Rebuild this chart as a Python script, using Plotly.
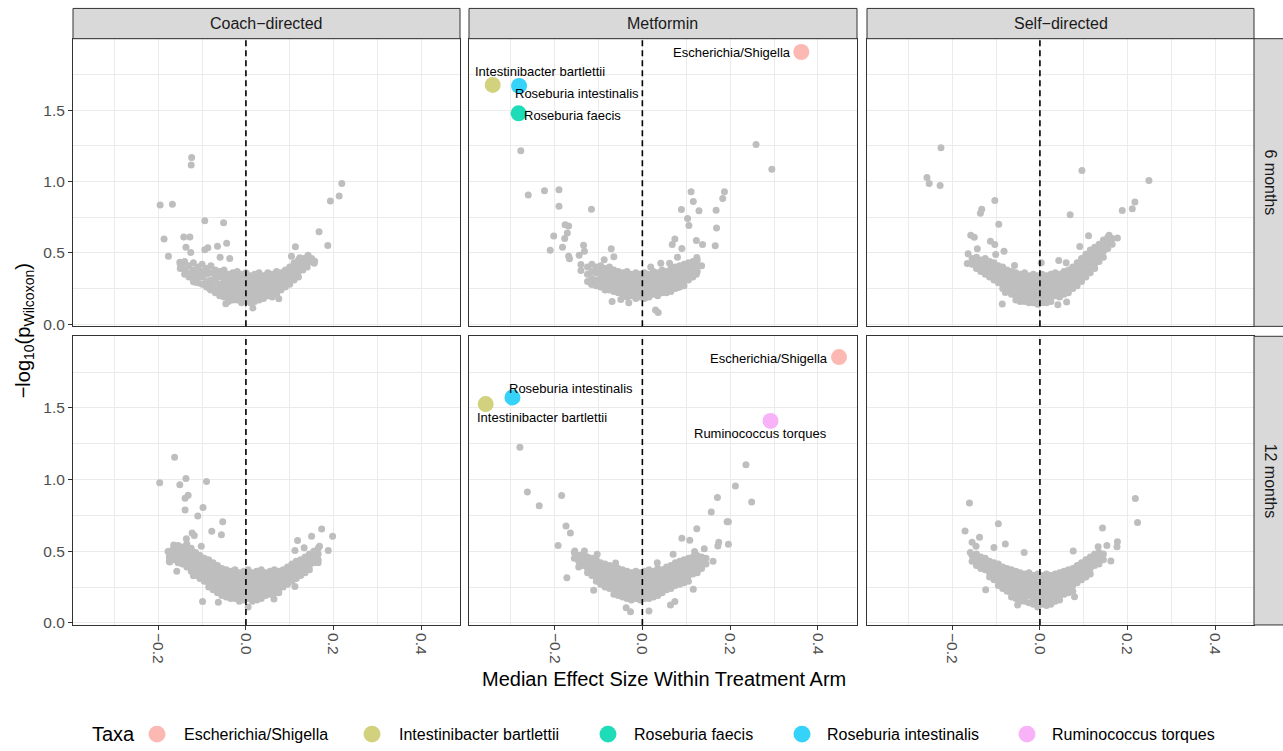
import plotly.graph_objects as go

# ---------------- data ----------------
arms = ["Coach−directed", "Metformin", "Self−directed"]
times = ["6 months", "12 months"]
taxa = ["Escherichia/Shigella", "Intestinibacter bartlettii", "Roseburia faecis",
        "Roseburia intestinalis", "Ruminococcus torques"]
taxa_colors = ["#FCB9B3", "#D2D17E", "#1FDCB8", "#35D2FA", "#F8B2F8"]

x_ticks = [-0.2, 0.0, 0.2, 0.4]
x_tick_labels = ["−0.2", "0.0", "0.2", "0.4"]
y_ticks = [0.0, 0.5, 1.0, 1.5]
y_tick_labels = ["0.0", "0.5", "1.0", "1.5"]

# scattered (non-highlighted) taxa, (effect size, -log10 p)
coach6_points = [(-0.124, 1.167), (-0.125, 1.116), (-0.196, 0.836), (-0.168, 0.840), (-0.187, 0.597),
                 (-0.177, 0.477), (-0.142, 0.611), (-0.128, 0.611), (-0.137, 0.539), (-0.126, 0.502),
                 (-0.094, 0.725), (-0.051, 0.711), (-0.094, 0.521), (-0.087, 0.535), (-0.065, 0.546),
                 (-0.044, 0.567), (-0.059, 0.470), (-0.037, 0.461), (-0.151, 0.435), (-0.145, 0.407),
                 (-0.118, 0.296), (-0.082, 0.245), (-0.046, 0.144), (0.016, 0.113), (0.075, 0.178),
                 (0.219, 0.986), (0.213, 0.898), (0.193, 0.863), (0.167, 0.648), (0.187, 0.551),
                 (0.113, 0.542), (0.142, 0.484), (0.157, 0.442), (0.156, 0.428), (0.104, 0.477),
                 (0.123, 0.465)]
coach6_cloud_x = [-0.150, -0.140, -0.130, -0.120, -0.110, -0.100, -0.090, -0.080, -0.070, -0.060,
                  -0.050, -0.040, -0.030, -0.020, -0.010, 0.000, 0.010, 0.020, 0.030, 0.040,
                  0.050, 0.060, 0.070, 0.080, 0.090, 0.100, 0.110, 0.120, 0.130, 0.140, 0.150]
coach6_cloud_y = [[0.42, 0.39], [0.44, 0.38, 0.35], [0.41, 0.36, 0.33], [0.43, 0.38, 0.34, 0.30],
                  [0.40, 0.36, 0.32, 0.29], [0.42, 0.37, 0.33, 0.28], [0.39, 0.35, 0.30, 0.26],
                  [0.41, 0.36, 0.31, 0.27, 0.24], [0.38, 0.34, 0.30, 0.25, 0.22],
                  [0.37, 0.33, 0.28, 0.24, 0.20], [0.38, 0.34, 0.30, 0.26, 0.22, 0.19],
                  [0.35, 0.31, 0.27, 0.23, 0.19, 0.16], [0.36, 0.32, 0.28, 0.24, 0.20, 0.17],
                  [0.37, 0.33, 0.29, 0.25, 0.21, 0.17], [0.35, 0.31, 0.27, 0.23, 0.19, 0.15],
                  [0.36, 0.32, 0.28, 0.24, 0.20, 0.16], [0.34, 0.30, 0.26, 0.22, 0.18, 0.15],
                  [0.35, 0.31, 0.27, 0.23, 0.19, 0.16], [0.36, 0.32, 0.28, 0.24, 0.20, 0.17],
                  [0.34, 0.30, 0.26, 0.22, 0.18], [0.36, 0.32, 0.28, 0.24, 0.20],
                  [0.35, 0.31, 0.27, 0.23, 0.19], [0.37, 0.33, 0.29, 0.25, 0.21],
                  [0.36, 0.32, 0.28, 0.24], [0.38, 0.34, 0.30, 0.26], [0.40, 0.36, 0.32, 0.28],
                  [0.43, 0.39, 0.35, 0.31], [0.45, 0.41, 0.37, 0.33], [0.46, 0.42, 0.38],
                  [0.47, 0.43, 0.40], [0.46, 0.44]]

met6_points = [(-0.277, 1.215), (0.259, 1.259), (0.295, 1.086), (-0.260, 0.905), (-0.223, 0.935),
               (-0.190, 0.942), (-0.190, 0.826), (-0.116, 0.806), (-0.176, 0.697), (-0.168, 0.688),
               (-0.171, 0.639), (-0.177, 0.600), (-0.202, 0.618), (-0.182, 0.539), (-0.210, 0.519),
               (-0.168, 0.477), (-0.166, 0.458), (-0.134, 0.553), (-0.132, 0.512), (-0.144, 0.484),
               (-0.071, 0.528), (-0.065, 0.472), (-0.087, 0.451), (-0.140, 0.419), (-0.140, 0.377),
               (-0.069, 0.160), (-0.049, 0.174), (-0.031, 0.150), (0.030, 0.100), (0.036, 0.083),
               (0.111, 0.928), (0.116, 0.859), (0.129, 0.794), (0.089, 0.803), (0.187, 0.928),
               (0.183, 0.880), (0.168, 0.799), (0.103, 0.741), (0.106, 0.692), (0.169, 0.674),
               (0.074, 0.597), (0.068, 0.558), (0.090, 0.530), (0.123, 0.586), (0.137, 0.558),
               (0.166, 0.549), (0.124, 0.468), (0.135, 0.410), (0.123, 0.350), (0.042, 0.428),
               (0.062, 0.428), (0.019, 0.400), (0.080, 0.470), (0.080, 0.257), (-0.116, 0.280)]
met6_cloud_x = [-0.125, -0.115, -0.105, -0.095, -0.085, -0.075, -0.065, -0.055, -0.045, -0.035,
                -0.025, -0.015, -0.005, 0.005, 0.015, 0.025, 0.035, 0.045, 0.055, 0.065,
                0.075, 0.085, 0.095, 0.105, 0.115, 0.125]
met6_cloud_y = [[0.40, 0.35, 0.30], [0.42, 0.37, 0.32, 0.28], [0.40, 0.36, 0.31, 0.27],
                [0.41, 0.37, 0.33, 0.29, 0.26], [0.39, 0.35, 0.31, 0.27, 0.24],
                [0.40, 0.36, 0.32, 0.28, 0.24], [0.38, 0.34, 0.30, 0.26, 0.23],
                [0.37, 0.33, 0.29, 0.25, 0.22], [0.36, 0.32, 0.28, 0.24, 0.21],
                [0.37, 0.33, 0.29, 0.25, 0.21, 0.19], [0.35, 0.31, 0.27, 0.23, 0.20],
                [0.36, 0.32, 0.28, 0.24, 0.20, 0.18], [0.35, 0.31, 0.27, 0.23, 0.19],
                [0.36, 0.32, 0.28, 0.24, 0.20, 0.18], [0.35, 0.31, 0.27, 0.23, 0.19],
                [0.37, 0.33, 0.29, 0.25, 0.21], [0.36, 0.32, 0.28, 0.24, 0.20],
                [0.38, 0.34, 0.30, 0.26, 0.22], [0.37, 0.33, 0.29, 0.25, 0.22],
                [0.39, 0.35, 0.31, 0.27, 0.23], [0.40, 0.36, 0.32, 0.28, 0.25],
                [0.41, 0.37, 0.33, 0.29, 0.26], [0.42, 0.38, 0.34, 0.30, 0.27],
                [0.43, 0.39, 0.35, 0.31], [0.44, 0.40, 0.36, 0.33], [0.45, 0.41, 0.37]]

self6_points = [(-0.226, 1.236), (-0.258, 1.028), (-0.253, 0.986), (-0.228, 0.972), (0.096, 1.076),
                (0.249, 1.007), (0.217, 0.856), (0.211, 0.808), (0.188, 0.796), (-0.103, 0.866),
                (-0.133, 0.806), (-0.136, 0.778), (-0.094, 0.701), (0.069, 0.766), (0.111, 0.620),
                (0.091, 0.544), (-0.158, 0.623), (-0.150, 0.609), (-0.143, 0.528), (-0.113, 0.581),
                (-0.103, 0.558), (-0.082, 0.512), (-0.101, 0.488), (-0.164, 0.493), (-0.166, 0.426),
                (0.158, 0.623), (0.177, 0.604), (0.003, 0.431), (0.043, 0.447), (-0.086, 0.141),
                (0.041, 0.137), (0.061, 0.155), (-0.079, 0.222), (-0.058, 0.412), (0.060, 0.431)]
self6_cloud_x = [-0.155, -0.145, -0.135, -0.125, -0.115, -0.105, -0.095, -0.085, -0.075, -0.065,
                 -0.055, -0.045, -0.035, -0.025, -0.015, -0.005, 0.005, 0.015, 0.025, 0.035,
                 0.045, 0.055, 0.065, 0.075, 0.085, 0.095, 0.105, 0.115, 0.125, 0.135,
                 0.145, 0.155, 0.165]
self6_cloud_y = [[0.46, 0.42], [0.47, 0.43, 0.39], [0.45, 0.41, 0.37], [0.46, 0.42, 0.38, 0.35],
                 [0.44, 0.40, 0.36, 0.33], [0.43, 0.39, 0.35, 0.31], [0.41, 0.37, 0.33, 0.29],
                 [0.40, 0.36, 0.32, 0.28, 0.25], [0.38, 0.34, 0.30, 0.26, 0.23],
                 [0.37, 0.33, 0.29, 0.25, 0.21], [0.36, 0.32, 0.28, 0.24, 0.20, 0.17],
                 [0.35, 0.31, 0.27, 0.23, 0.19, 0.16], [0.36, 0.32, 0.28, 0.24, 0.20, 0.16],
                 [0.34, 0.30, 0.26, 0.22, 0.18, 0.15], [0.35, 0.31, 0.27, 0.23, 0.19, 0.15],
                 [0.34, 0.30, 0.26, 0.22, 0.18, 0.14], [0.35, 0.31, 0.27, 0.23, 0.19, 0.15],
                 [0.34, 0.30, 0.26, 0.22, 0.18, 0.15], [0.35, 0.31, 0.27, 0.23, 0.19, 0.16],
                 [0.36, 0.32, 0.28, 0.24, 0.20], [0.35, 0.31, 0.27, 0.23, 0.19],
                 [0.37, 0.33, 0.29, 0.25, 0.21], [0.38, 0.34, 0.30, 0.26, 0.22],
                 [0.40, 0.36, 0.32, 0.28, 0.25], [0.43, 0.39, 0.35, 0.31, 0.27],
                 [0.46, 0.42, 0.38, 0.34, 0.30], [0.49, 0.45, 0.41, 0.37, 0.33],
                 [0.52, 0.48, 0.44, 0.40, 0.36], [0.54, 0.50, 0.46, 0.42, 0.39],
                 [0.56, 0.52, 0.48, 0.44], [0.59, 0.55, 0.51, 0.47], [0.61, 0.57, 0.53],
                 [0.60, 0.56]]

coach12_points = [(-0.163, 1.156), (-0.197, 0.978), (-0.151, 0.964), (-0.137, 1.008), (-0.090, 0.987),
                  (-0.139, 0.870), (-0.132, 0.890), (-0.139, 0.787), (-0.098, 0.805), (-0.110, 0.745),
                  (-0.053, 0.706), (-0.078, 0.639), (-0.056, 0.614), (-0.123, 0.627), (-0.118, 0.609),
                  (-0.102, 0.535), (-0.165, 0.544), (-0.178, 0.498), (-0.174, 0.424), (-0.149, 0.448),
                  (-0.158, 0.360), (-0.120, 0.328), (-0.099, 0.148), (-0.063, 0.143), (0.005, 0.111),
                  (0.064, 0.166), (0.112, 0.254), (0.173, 0.655), (0.150, 0.604), (0.198, 0.604),
                  (0.188, 0.505), (0.118, 0.574), (0.133, 0.524), (0.168, 0.535), (0.165, 0.420),
                  (0.152, 0.448), (0.112, 0.505), (-0.136, 0.586)]
coach12_cloud_x = [-0.175, -0.165, -0.155, -0.145, -0.135, -0.125, -0.115, -0.105, -0.095, -0.085,
                   -0.075, -0.065, -0.055, -0.045, -0.035, -0.025, -0.015, -0.005, 0.005, 0.015,
                   0.025, 0.035, 0.045, 0.055, 0.065, 0.075, 0.085, 0.095, 0.105, 0.115,
                   0.125, 0.135, 0.145, 0.155, 0.165]
coach12_cloud_y = [[0.50, 0.46, 0.43], [0.52, 0.48, 0.44], [0.54, 0.50, 0.46, 0.42],
                   [0.53, 0.49, 0.45, 0.41], [0.55, 0.51, 0.47, 0.43, 0.39],
                   [0.52, 0.48, 0.44, 0.40, 0.36], [0.49, 0.45, 0.41, 0.37, 0.33],
                   [0.47, 0.43, 0.39, 0.35, 0.31], [0.45, 0.41, 0.37, 0.33, 0.29],
                   [0.44, 0.40, 0.36, 0.32, 0.28, 0.25], [0.42, 0.38, 0.34, 0.30, 0.26, 0.23],
                   [0.40, 0.36, 0.32, 0.28, 0.24, 0.21], [0.38, 0.34, 0.30, 0.26, 0.22, 0.19],
                   [0.37, 0.33, 0.29, 0.25, 0.21, 0.18], [0.36, 0.32, 0.28, 0.24, 0.20, 0.17],
                   [0.37, 0.33, 0.29, 0.25, 0.21, 0.17], [0.35, 0.31, 0.27, 0.23, 0.19, 0.15],
                   [0.36, 0.32, 0.28, 0.24, 0.20, 0.16], [0.37, 0.33, 0.29, 0.25, 0.21, 0.17],
                   [0.35, 0.31, 0.27, 0.23, 0.19, 0.15], [0.36, 0.32, 0.28, 0.24, 0.20, 0.16],
                   [0.37, 0.33, 0.29, 0.25, 0.21, 0.17], [0.35, 0.31, 0.27, 0.23, 0.19],
                   [0.36, 0.32, 0.28, 0.24, 0.20], [0.37, 0.33, 0.29, 0.25, 0.21],
                   [0.36, 0.32, 0.28, 0.24, 0.21], [0.37, 0.33, 0.29, 0.25],
                   [0.39, 0.35, 0.31, 0.27], [0.41, 0.37, 0.33, 0.29], [0.43, 0.39, 0.35, 0.31],
                   [0.44, 0.40, 0.36, 0.33], [0.46, 0.42, 0.38, 0.35], [0.48, 0.44, 0.40, 0.37],
                   [0.50, 0.46, 0.42], [0.52, 0.48, 0.44]]

met12_points = [(-0.279, 1.225), (-0.262, 0.913), (-0.235, 0.817), (-0.184, 0.888), (-0.174, 0.676),
                (-0.164, 0.627), (-0.192, 0.540), (-0.172, 0.314), (-0.154, 0.501), (-0.132, 0.501),
                (-0.103, 0.478), (0.236, 1.103), (0.212, 0.955), (0.249, 0.844), (0.171, 0.874),
                (0.157, 0.773), (0.193, 0.706), (0.196, 0.706), (0.124, 0.657), (0.090, 0.591),
                (0.108, 0.577), (0.174, 0.563), (0.196, 0.549), (0.172, 0.537), (0.141, 0.517),
                (0.119, 0.498), (0.161, 0.429), (0.070, 0.478), (0.116, 0.235), (0.064, 0.125),
                (0.074, 0.148), (0.015, 0.083), (-0.027, 0.078), (-0.037, 0.106), (-0.111, 0.228),
                (-0.061, 0.418), (0.034, 0.420)]
met12_cloud_x = [-0.155, -0.145, -0.135, -0.125, -0.115, -0.105, -0.095, -0.085, -0.075, -0.065,
                 -0.055, -0.045, -0.035, -0.025, -0.015, -0.005, 0.005, 0.015, 0.025, 0.035,
                 0.045, 0.055, 0.065, 0.075, 0.085, 0.095, 0.105, 0.115, 0.125, 0.135, 0.145]
met12_cloud_y = [[0.49, 0.45], [0.47, 0.43, 0.39], [0.48, 0.44, 0.40], [0.46, 0.42, 0.38, 0.35],
                 [0.45, 0.41, 0.37, 0.33], [0.44, 0.40, 0.36, 0.32, 0.29],
                 [0.42, 0.38, 0.34, 0.30, 0.27], [0.41, 0.37, 0.33, 0.29, 0.25],
                 [0.40, 0.36, 0.32, 0.28, 0.24], [0.39, 0.35, 0.31, 0.27, 0.23, 0.20],
                 [0.38, 0.34, 0.30, 0.26, 0.22, 0.19], [0.37, 0.33, 0.29, 0.25, 0.21, 0.18],
                 [0.36, 0.32, 0.28, 0.24, 0.20, 0.17], [0.35, 0.31, 0.27, 0.23, 0.19, 0.16],
                 [0.36, 0.32, 0.28, 0.24, 0.20, 0.17], [0.35, 0.31, 0.27, 0.23, 0.19, 0.16],
                 [0.36, 0.32, 0.28, 0.24, 0.20, 0.17], [0.37, 0.33, 0.29, 0.25, 0.21, 0.17],
                 [0.36, 0.32, 0.28, 0.24, 0.20, 0.18], [0.38, 0.34, 0.30, 0.26, 0.22, 0.19],
                 [0.37, 0.33, 0.29, 0.25, 0.21], [0.39, 0.35, 0.31, 0.27, 0.23],
                 [0.40, 0.36, 0.32, 0.28, 0.24], [0.42, 0.38, 0.34, 0.30, 0.26],
                 [0.43, 0.39, 0.35, 0.31, 0.27], [0.44, 0.40, 0.36, 0.32, 0.28],
                 [0.45, 0.41, 0.37, 0.33, 0.29], [0.46, 0.42, 0.38, 0.34],
                 [0.47, 0.43, 0.39, 0.35], [0.46, 0.42, 0.38], [0.45, 0.41]]

self12_points = [(-0.161, 0.837), (0.218, 0.867), (0.223, 0.701), (-0.095, 0.692), (-0.171, 0.641),
                 (-0.138, 0.597), (-0.155, 0.563), (-0.146, 0.535), (-0.105, 0.526), (-0.079, 0.551),
                 (-0.036, 0.491), (0.143, 0.662), (0.177, 0.565), (0.176, 0.531), (0.153, 0.540),
                 (0.133, 0.531), (0.076, 0.501), (-0.159, 0.491), (-0.124, 0.231), (-0.051, 0.125),
                 (0.162, 0.431), (0.079, 0.182)]
self12_cloud_x = [-0.155, -0.145, -0.135, -0.125, -0.115, -0.105, -0.095, -0.085, -0.075, -0.065,
                  -0.055, -0.045, -0.035, -0.025, -0.015, -0.005, 0.005, 0.015, 0.025, 0.035,
                  0.045, 0.055, 0.065, 0.075, 0.085, 0.095, 0.105, 0.115, 0.125, 0.135, 0.145]
self12_cloud_y = [[0.47, 0.43], [0.48, 0.44, 0.40], [0.46, 0.42, 0.38], [0.45, 0.41, 0.37],
                  [0.43, 0.39, 0.35, 0.32], [0.42, 0.38, 0.34, 0.30],
                  [0.41, 0.37, 0.33, 0.29, 0.26], [0.39, 0.35, 0.31, 0.27, 0.24],
                  [0.38, 0.34, 0.30, 0.26, 0.22], [0.37, 0.33, 0.29, 0.25, 0.21, 0.18],
                  [0.36, 0.32, 0.28, 0.24, 0.20, 0.17], [0.35, 0.31, 0.27, 0.23, 0.19, 0.15],
                  [0.34, 0.30, 0.26, 0.22, 0.18, 0.15], [0.35, 0.31, 0.27, 0.23, 0.19, 0.14],
                  [0.33, 0.29, 0.25, 0.21, 0.17, 0.13], [0.34, 0.30, 0.26, 0.22, 0.18, 0.14, 0.11],
                  [0.33, 0.29, 0.25, 0.21, 0.17, 0.13], [0.34, 0.30, 0.26, 0.22, 0.18, 0.14, 0.12],
                  [0.33, 0.29, 0.25, 0.21, 0.17, 0.13], [0.34, 0.30, 0.26, 0.22, 0.18, 0.15],
                  [0.35, 0.31, 0.27, 0.23, 0.19, 0.16], [0.36, 0.32, 0.28, 0.24, 0.20],
                  [0.37, 0.33, 0.29, 0.25, 0.21], [0.38, 0.34, 0.30, 0.26, 0.22],
                  [0.40, 0.36, 0.32, 0.28], [0.42, 0.38, 0.34, 0.30], [0.44, 0.40, 0.36, 0.32],
                  [0.46, 0.42, 0.38, 0.34], [0.48, 0.44, 0.40], [0.49, 0.45, 0.41], [0.48, 0.44]]

# highlighted taxa (Metformin arm only)
met6_hl_taxa = ["Escherichia/Shigella", "Intestinibacter bartlettii", "Roseburia intestinalis", "Roseburia faecis"]
met6_hl_x = [0.362, -0.341, -0.281, -0.282]
met6_hl_y = [1.907, 1.676, 1.669, 1.477]
met12_hl_taxa = ["Escherichia/Shigella", "Roseburia intestinalis", "Intestinibacter bartlettii", "Ruminococcus torques"]
met12_hl_x = [0.448, -0.296, -0.357, 0.292]
met12_hl_y = [1.855, 1.573, 1.527, 1.409]

# ---------------- layout helpers ----------------
W, H = 1283, 751
col_px = [(73, 460), (469, 857), (867, 1254)]
row_px = [(39, 329), (339, 630)]
X_RANGE = [-0.395, 0.489]
Y_RANGE = [-0.015, 2.0]
FONT = "Liberation Sans, Arial, Helvetica, sans-serif"

# text-label placements (ggrepel-like), in data units
met6_label_pos = [(0.204, 1.900), (-0.234, 1.769), (-0.148, 1.616), (-0.159, 1.463)]
met12_label_pos = [(0.288, 1.843), (-0.162, 1.636), (-0.228, 1.433), (0.270, 1.324)]


def fx(px):
    return px / W


def fy(py):
    return 1 - py / H


def expand(points, cloud_x, cloud_y):
    xs = [p[0] for p in points]
    ys = [p[1] for p in points]
    for cx, cys in zip(cloud_x, cloud_y):
        for cy in cys:
            xs.append(cx)
            ys.append(cy)
    return xs, ys


panel_data = {
    (0, 0): expand(coach6_points, coach6_cloud_x, coach6_cloud_y),
    (0, 1): expand(met6_points, met6_cloud_x, met6_cloud_y),
    (0, 2): expand(self6_points, self6_cloud_x, self6_cloud_y),
    (1, 0): expand(coach12_points, coach12_cloud_x, coach12_cloud_y),
    (1, 1): expand(met12_points, met12_cloud_x, met12_cloud_y),
    (1, 2): expand(self12_points, self12_cloud_x, self12_cloud_y),
}
highlights = {
    (0, 1): (met6_hl_taxa, met6_hl_x, met6_hl_y, met6_label_pos),
    (1, 1): (met12_hl_taxa, met12_hl_x, met12_hl_y, met12_label_pos),
}

fig = go.Figure()
layout = dict(
    width=W, height=H, margin=dict(l=0, r=0, t=0, b=0),
    paper_bgcolor="white", plot_bgcolor="white", showlegend=False,
    font=dict(family=FONT, color="black"),
)
shapes = []
annotations = []

for r in range(2):
    for c in range(3):
        n = r * 3 + c + 1
        sfx = "" if n == 1 else str(n)
        xa, ya = "x" + sfx, "y" + sfx
        bottom = (r == 1)
        left = (c == 0)
        layout["xaxis" + sfx] = dict(
            domain=[fx(col_px[c][0]), fx(col_px[c][1])], anchor=ya, range=X_RANGE,
            tickmode="array", tickvals=x_ticks, ticktext=x_tick_labels,
            showticklabels=bottom, ticks="outside" if bottom else "", ticklen=4,
            tickcolor="#333333", tickwidth=1, tickangle=90,
            tickfont=dict(size=15.5, color="#4D4D4D", family=FONT),
            showgrid=True, gridcolor="#EBEBEB", gridwidth=1.2,
            minor=dict(tickmode="array", tickvals=[-0.3, -0.1, 0.1, 0.3], showgrid=True,
                       gridcolor="#EBEBEB", gridwidth=0.6, ticks=""),
            zeroline=False, showline=True, mirror=True, linecolor="#333333", linewidth=1,
            fixedrange=True,
        )
        layout["yaxis" + sfx] = dict(
            domain=[fy(row_px[r][1]), fy(row_px[r][0])], anchor=xa, range=Y_RANGE,
            tickmode="array", tickvals=y_ticks, ticktext=y_tick_labels,
            showticklabels=left, ticks="outside" if left else "", ticklen=4,
            tickcolor="#333333", tickwidth=1,
            tickfont=dict(size=15.5, color="#4D4D4D", family=FONT),
            showgrid=True, gridcolor="#EBEBEB", gridwidth=1.2,
            minor=dict(tickmode="array", tickvals=[0.25, 0.75, 1.25, 1.75], showgrid=True,
                       gridcolor="#EBEBEB", gridwidth=0.6, ticks=""),
            zeroline=False, showline=True, mirror=True, linecolor="#333333", linewidth=1,
            fixedrange=True,
        )
        xs, ys = panel_data[(r, c)]
        fig.add_trace(go.Scatter(x=xs, y=ys, mode="markers", xaxis=xa, yaxis=ya,
                                 marker=dict(size=7, color="#BEBEBE", line=dict(width=0)),
                                 hoverinfo="skip"))
        if (r, c) in highlights:
            hl_taxa, hl_x, hl_y, lab_pos = highlights[(r, c)]
            for t, hx, hy, lp in zip(hl_taxa, hl_x, hl_y, lab_pos):
                fig.add_trace(go.Scatter(
                    x=[hx], y=[hy], mode="markers", xaxis=xa, yaxis=ya,
                    marker=dict(size=16, color=taxa_colors[taxa.index(t)], line=dict(width=0)),
                    name=t))
                annotations.append(dict(x=lp[0], y=lp[1], xref=xa, yref=ya, text=t,
                                        showarrow=False, xanchor="center", yanchor="middle",
                                        font=dict(size=13, color="black", family=FONT)))
        # dashed zero line
        shapes.append(dict(type="line", xref=xa, yref=ya + " domain", x0=0, x1=0, y0=0, y1=1,
                           line=dict(color="black", width=1.6, dash="6px,4px"), layer="above"))

# facet strips
for c in range(3):
    shapes.append(dict(type="rect", xref="paper", yref="paper",
                       x0=fx(col_px[c][0]), x1=fx(col_px[c][1]), y0=fy(39), y1=fy(8.5),
                       fillcolor="#D9D9D9", line=dict(color="#333333", width=1), layer="above"))
    annotations.append(dict(x=fx((col_px[c][0] + col_px[c][1]) / 2), y=fy(23.5), xref="paper",
                            yref="paper", text=arms[c], showarrow=False,
                            xanchor="center", yanchor="middle",
                            font=dict(size=16, color="#1A1A1A", family=FONT)))
for r in range(2):
    shapes.append(dict(type="rect", xref="paper", yref="paper",
                       x0=fx(1254), x1=fx(1290), y0=fy(row_px[r][1]), y1=fy(row_px[r][0]),
                       fillcolor="#D9D9D9", line=dict(color="#333333", width=1), layer="above"))
    annotations.append(dict(x=fx(1270), y=fy((row_px[r][0] + row_px[r][1]) / 2), xref="paper",
                            yref="paper", text=times[r], showarrow=False, textangle=90,
                            xanchor="center", yanchor="middle",
                            font=dict(size=16, color="#1A1A1A", family=FONT)))

# axis titles
annotations.append(dict(x=fx(663.5), y=fy(684), xref="paper", yref="paper",
                        text="Median Effect Size Within Treatment Arm", showarrow=False,
                        xanchor="center", yanchor="middle",
                        font=dict(size=20, color="black", family=FONT)))
annotations.append(dict(x=fx(24), y=fy(334), xref="paper", yref="paper",
                        text="−log<sub>10</sub>(p<sub>Wilcoxon</sub>)", showarrow=False,
                        textangle=-90, xanchor="center", yanchor="middle",
                        font=dict(size=20, color="black", family=FONT)))

# legend (drawn manually, bottom)
legend_y = 740
legend_marker_px = [157, 372, 608, 802, 1027]
legend_text_px = [182, 397, 632, 825, 1050]
annotations.append(dict(x=fx(90), y=fy(legend_y), xref="paper", yref="paper", text="Taxa",
                        showarrow=False, xanchor="left", yanchor="middle",
                        font=dict(size=20, color="black", family=FONT)))
for t, col, mx, tx in zip(taxa, taxa_colors, legend_marker_px, legend_text_px):
    shapes.append(dict(type="circle", xref="paper", yref="paper",
                       x0=fx(mx - 8.5), x1=fx(mx + 8.5), y0=fy(legend_y + 8.5), y1=fy(legend_y - 8.5),
                       fillcolor=col, line=dict(width=0)))
    annotations.append(dict(x=fx(tx), y=fy(legend_y), xref="paper", yref="paper", text=t,
                            showarrow=False, xanchor="left", yanchor="middle",
                            font=dict(size=16, color="black", family=FONT)))

layout["shapes"] = shapes
layout["annotations"] = annotations
fig.update_layout(**layout)
# remove the page's default body margin / scrollbars so the figure fills the window exactly
fig.write_html("out.html", config={"displayModeBar": False},
               post_script="document.body.style.margin='0';document.body.style.overflow='hidden';"
                           "document.documentElement.style.overflow='hidden';")
